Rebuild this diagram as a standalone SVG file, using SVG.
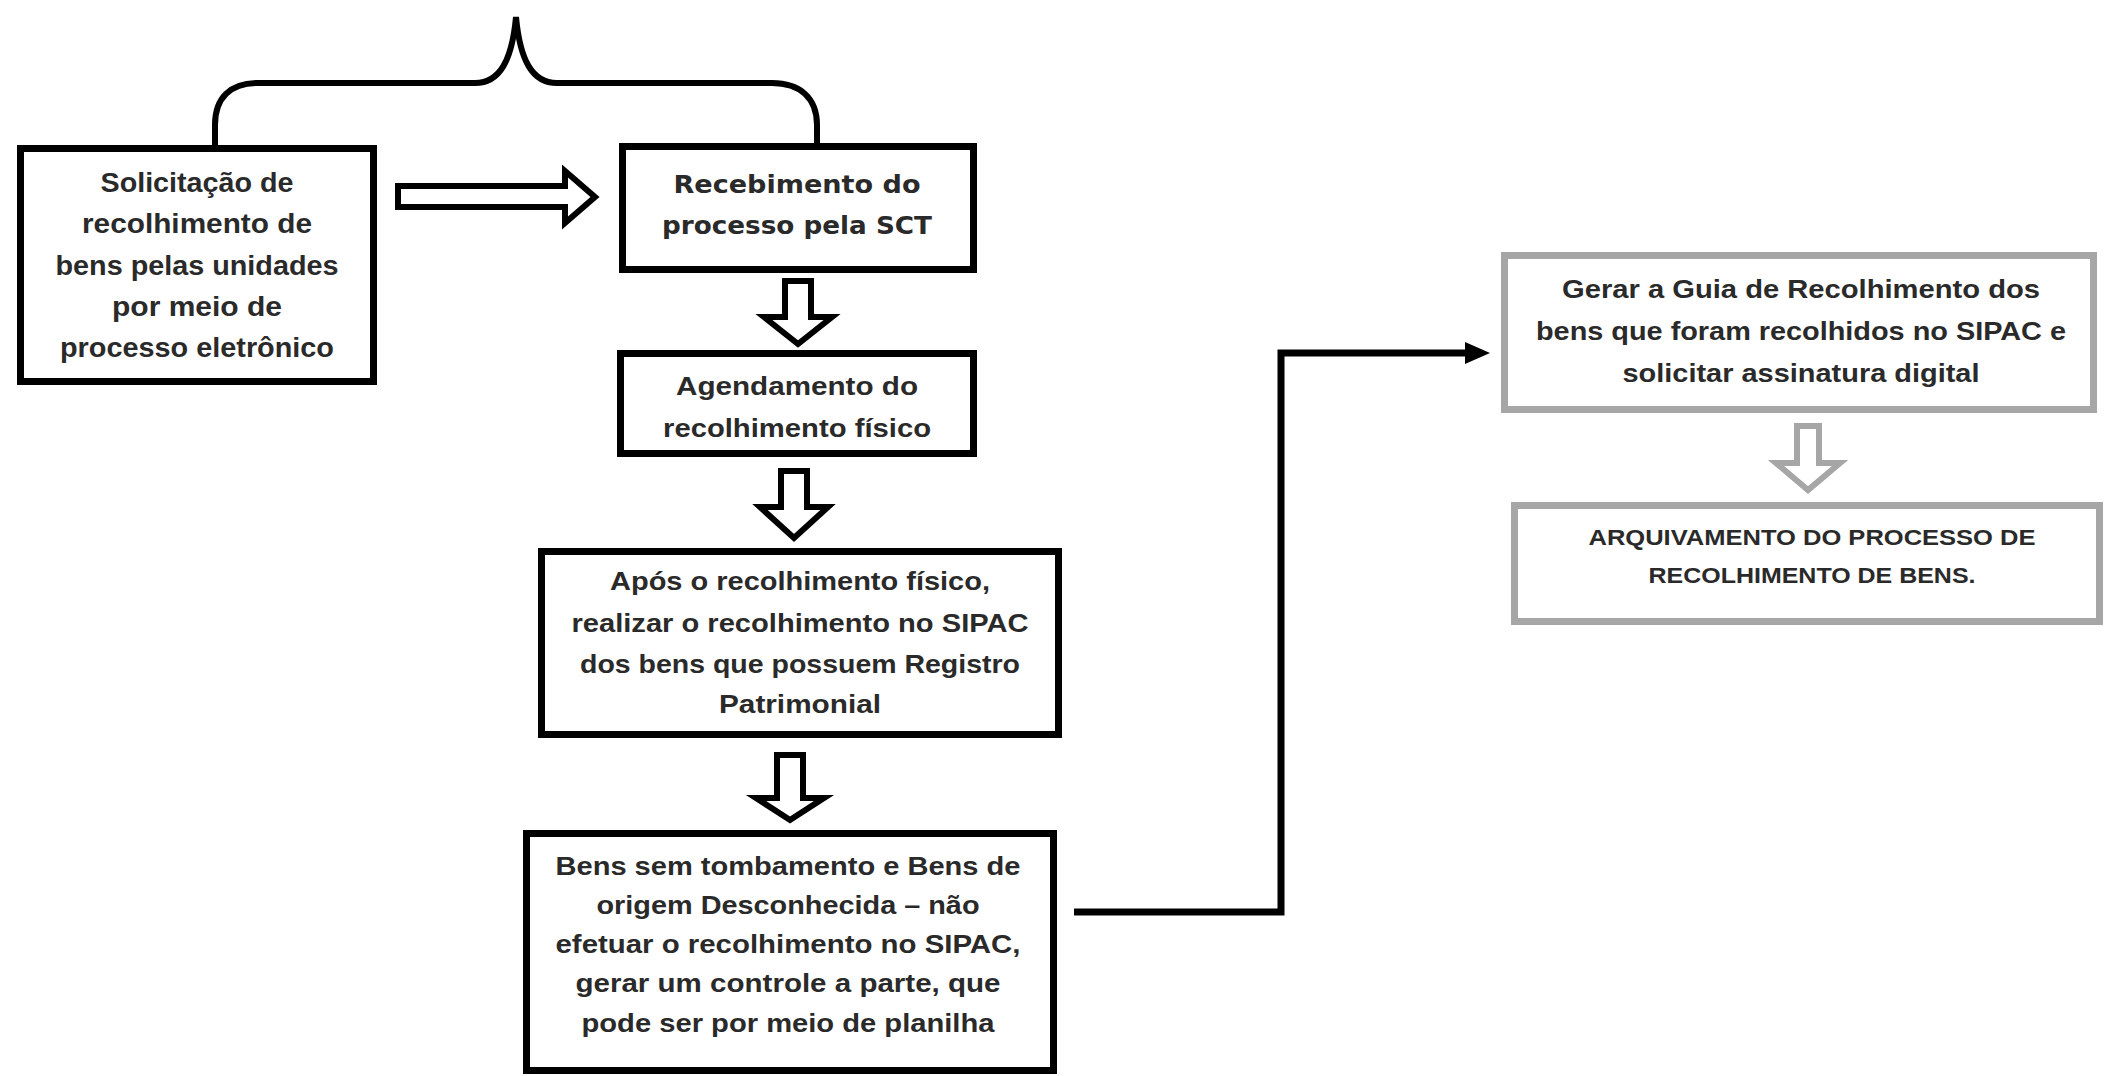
<svg xmlns="http://www.w3.org/2000/svg" width="2105" height="1076" viewBox="0 0 2105 1076">
<style>
.box{fill:#fff;stroke:#000;stroke-width:7}
.gbox{fill:#fff;stroke:#a6a6a6;stroke-width:7}
.t{font-family:"Liberation Sans",Arial,sans-serif;font-weight:bold;font-size:25px;fill:#2a2a2a;text-anchor:middle}
.t1{font-size:27px}
.tv{font-family:"DejaVu Sans",Verdana,sans-serif;font-size:25px}
.t7{font-size:22px}
.harrow{fill:#fff;stroke:#000;stroke-width:6;stroke-linejoin:miter}
.garrow{fill:#fff;stroke:#a6a6a6;stroke-width:6}
.line{fill:none;stroke:#000;stroke-width:7;stroke-linejoin:miter}
.brace{fill:none;stroke:#000;stroke-width:6}
</style>
<rect width="2105" height="1076" fill="#fff"/>
<g id="connectors">
<path class="brace" d="M215 145 L215 125 C215 98 230 83 258 83 L475 83 C500 83 512 60 516 17 C520 60 532 83 557 83 L772 83 C800 83 817 98 817 125 L817 144"/>
<polygon class="harrow" points="398,186 565,186 565,171 595,197 565,223 565,207 398,207"/>
<polygon class="harrow" points="785,281 811,281 811,317 832,317 798,344 764,317 785,317"/>
<polygon class="harrow" points="781,471 807,471 807,507 828,507 794,538 760,507 781,507"/>
<polygon class="harrow" points="777,755 803,755 803,798 824,798 790,820 756,798 777,798"/>
<polyline class="line" points="1074,912 1281,912 1281,353 1468,353"/>
<polygon points="1490,353 1465,342 1465,364" fill="#000"/>
<polygon class="garrow" points="1797,426 1819,426 1819,463 1840,463 1808,490 1776,463 1797,463"/>
</g>
<g id="node1">
<rect class="box" x="20.5" y="148.5" width="353" height="233"/>
<text class="t t1" x="197" y="192" textLength="193" lengthAdjust="spacingAndGlyphs">Solicitação de</text>
<text class="t t1" x="197" y="233" textLength="230" lengthAdjust="spacingAndGlyphs">recolhimento de</text>
<text class="t t1" x="197" y="275" textLength="283" lengthAdjust="spacingAndGlyphs">bens pelas unidades</text>
<text class="t t1" x="197" y="316" textLength="170" lengthAdjust="spacingAndGlyphs">por meio de</text>
<text class="t t1" x="197" y="357" textLength="274" lengthAdjust="spacingAndGlyphs">processo eletrônico</text>
</g>
<g id="node2">
<rect class="box" x="622.5" y="146.5" width="351" height="123"/>
<text class="t tv" x="797" y="193" textLength="247" lengthAdjust="spacingAndGlyphs">Recebimento do</text>
<text class="t tv" x="797" y="234" textLength="270" lengthAdjust="spacingAndGlyphs">processo pela SCT</text>
</g>
<g id="node3">
<rect class="box" x="620.5" y="353.5" width="353" height="100"/>
<text class="t" x="797" y="395" textLength="242" lengthAdjust="spacingAndGlyphs">Agendamento do</text>
<text class="t" x="797" y="437" textLength="268" lengthAdjust="spacingAndGlyphs">recolhimento físico</text>
</g>
<g id="node4">
<rect class="box" x="541.5" y="551.5" width="517" height="183"/>
<text class="t" x="800" y="590" textLength="380" lengthAdjust="spacingAndGlyphs">Após o recolhimento físico,</text>
<text class="t" x="800" y="632" textLength="457" lengthAdjust="spacingAndGlyphs">realizar o recolhimento no SIPAC</text>
<text class="t" x="800" y="673" textLength="440" lengthAdjust="spacingAndGlyphs">dos bens que possuem Registro</text>
<text class="t" x="800" y="713" textLength="162" lengthAdjust="spacingAndGlyphs">Patrimonial</text>
</g>
<g id="node5">
<rect class="box" x="526.5" y="833.5" width="527" height="237"/>
<text class="t" x="788" y="875" textLength="465" lengthAdjust="spacingAndGlyphs">Bens sem tombamento e Bens de</text>
<text class="t" x="788" y="914" textLength="383" lengthAdjust="spacingAndGlyphs">origem Desconhecida – não</text>
<text class="t" x="788" y="953" textLength="465" lengthAdjust="spacingAndGlyphs">efetuar o recolhimento no SIPAC,</text>
<text class="t" x="788" y="992" textLength="425" lengthAdjust="spacingAndGlyphs">gerar um controle a parte, que</text>
<text class="t" x="788" y="1032" textLength="413" lengthAdjust="spacingAndGlyphs">pode ser por meio de planilha</text>
</g>
<g id="node6">
<rect class="gbox" x="1504.5" y="255.5" width="589" height="154"/>
<text class="t" x="1801" y="298" textLength="478" lengthAdjust="spacingAndGlyphs">Gerar a Guia de Recolhimento dos</text>
<text class="t" x="1801" y="340" textLength="530" lengthAdjust="spacingAndGlyphs">bens que foram recolhidos no SIPAC e</text>
<text class="t" x="1801" y="382" textLength="357" lengthAdjust="spacingAndGlyphs">solicitar assinatura digital</text>
</g>
<g id="node7">
<rect class="gbox" x="1514.5" y="505.5" width="585" height="116"/>
<text class="t t7" x="1812" y="545" textLength="447" lengthAdjust="spacingAndGlyphs">ARQUIVAMENTO DO PROCESSO DE</text>
<text class="t t7" x="1812" y="583" textLength="327" lengthAdjust="spacingAndGlyphs">RECOLHIMENTO DE BENS.</text>
</g>
</svg>
